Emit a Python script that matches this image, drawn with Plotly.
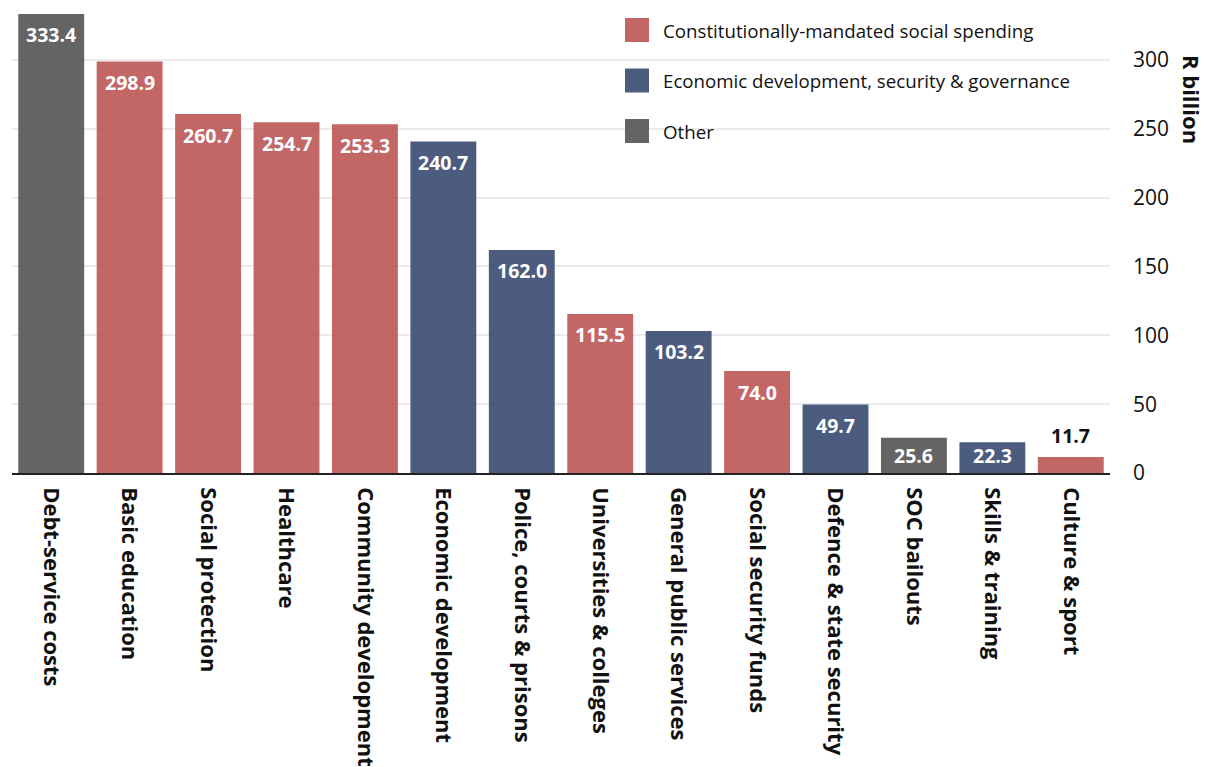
import plotly.graph_objects as go

categories = [
    "Debt-service costs", "Basic education", "Social protection", "Healthcare",
    "Community development", "Economic development", "Police, courts & prisons",
    "Universities & colleges", "General public services", "Social security funds",
    "Defence & state security", "SOC bailouts", "Skills & training", "Culture & sport",
]
values = [333.4, 298.9, 260.7, 254.7, 253.3, 240.7, 162.0, 115.5, 103.2, 74.0, 49.7, 25.6, 22.3, 11.7]
groups = ["other", "social", "social", "social", "social", "econ", "econ",
          "social", "econ", "social", "econ", "other", "econ", "social"]

group_names = {
    "social": "Constitutionally-mandated social spending",
    "econ": "Economic development, security & governance",
    "other": "Other",
}
# bar fills are drawn at 90% opacity, so gridlines show faintly through them
group_colors = {"social": "#bc5555", "econ": "#374a71", "other": "#535353"}
BAR_OPACITY = 0.9
legend_colors = {"social": "#c36666", "econ": "#4b5c7f", "other": "#646464"}
legend_order = ["social", "econ", "other"]

y_ticks = [0, 50, 100, 150, 200, 250, 300]
y_max = 334.1

FONT = "Open Sans"
PLOT_H = 460  # plot area height in px
PX_PER_UNIT = PLOT_H / y_max

fig = go.Figure()
fig.add_trace(go.Bar(
    x=categories, y=values,
    marker=dict(color=[group_colors[g] for g in groups], line=dict(width=0),
                opacity=BAR_OPACITY),
    showlegend=False, hoverinfo="x+y",
))

# value labels: inside near the top (kept clear of the baseline on short bars),
# or above the bar when it is too short to hold the text
for cat, v in zip(categories, values):
    if v < 18:
        fig.add_annotation(x=cat, y=v, text=f"<b>{v:.1f}</b>", showarrow=False,
                           yanchor="bottom", yshift=6,
                           font=dict(family=FONT, size=19.5, color="#111111"))
    else:
        y_lab = max(v - 21 / PX_PER_UNIT, 18 / PX_PER_UNIT)
        fig.add_annotation(x=cat, y=y_lab, text=f"<b>{v:.1f}</b>", showarrow=False,
                           yanchor="middle",
                           font=dict(family=FONT, size=19.5, color="white"))

# legend built from shapes and text
for i, g in enumerate(legend_order):
    cy = 30 + i * 50.5
    fig.add_shape(type="rect", xref="paper", yref="paper",
                  x0=(625 - 12) / 1098, x1=(649 - 12) / 1098,
                  y0=(473 - cy - 12) / PLOT_H, y1=(473 - cy + 12) / PLOT_H,
                  fillcolor=legend_colors[g], line=dict(width=0), layer="above")
    fig.add_annotation(xref="paper", yref="paper", x=(661 - 12) / 1098,
                       y=(473 - cy) / PLOT_H, xanchor="left", yanchor="middle",
                       text=group_names[g], showarrow=False,
                       font=dict(family=FONT, size=18.7, color="#111111"))

# axis title on the right, reading downwards
fig.add_annotation(xref="paper", yref="paper", x=(1192 - 12) / 1098, y=(473 - 99) / PLOT_H,
                   text="<b>R billion</b>", textangle=90, showarrow=False,
                   xanchor="center", yanchor="middle",
                   font=dict(family=FONT, size=22, color="#111111"))

fig.update_layout(
    width=1206, height=767,
    margin=dict(l=12, r=96, t=13, b=294),
    paper_bgcolor="white", plot_bgcolor="white",
    bargap=0.16,
    font=dict(family=FONT, color="#111111"),
    xaxis=dict(
        tickangle=90, tickfont=dict(family=FONT, size=22, color="#111111"),
        showline=True, linecolor="#222222", linewidth=1.5,
        ticks="", showgrid=False, ticklabelstandoff=8, automargin=False,
    ),
    yaxis=dict(
        side="right", range=[0, y_max], tickvals=y_ticks,
        tickfont=dict(family=FONT, size=21, color="#111111"),
        showgrid=True, gridcolor="#ebebeb", gridwidth=2,
        zeroline=False, showline=False, ticks="", ticklabelstandoff=22,
        automargin=False,
    ),
)
fig.update_xaxes(tickvals=categories, ticktext=[f"<b>{c}</b>" for c in categories])

fig.write_html("out.html")
